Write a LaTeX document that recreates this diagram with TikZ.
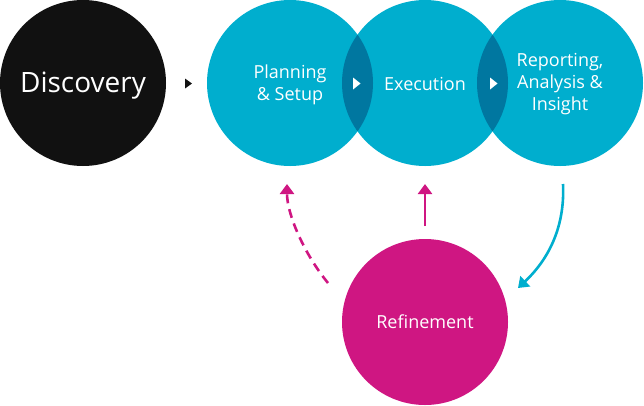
\documentclass[tikz,border=0pt]{standalone}
\usepackage{fontspec}
\setmainfont{Open Sans}
\usetikzlibrary{arrows.meta}
\definecolor{blackc}{HTML}{111111}
\definecolor{tealc}{HTML}{00AECE}
\definecolor{lensc}{HTML}{0077A0}
\definecolor{magc}{HTML}{CF1682}
\tikzset{
  bigcircle/.style={circle, minimum size=166pt, inner sep=0pt, text=white, align=center},
  stagetext/.style={font=\fontsize{18}{22}\selectfont},
  magarrow/.style={draw=magc, line width=2.6pt, -{Triangle[width=14pt,length=10pt]}},
  cyanarrow/.style={draw=tealc, line width=2.6pt, -{Triangle[width=14pt,length=10pt]}},
}
\begin{document}
\begin{tikzpicture}[x=1pt,y=-1pt]
\useasboundingbox (0,0) rectangle (644,405);
% circles
\node[bigcircle, fill=blackc] (disc) at (83,83) {};
\node[bigcircle, fill=tealc] (plan) at (290,83) {};
\node[bigcircle, fill=tealc] (exec) at (425,83) {};
\node[bigcircle, fill=tealc] (rep) at (560,83) {};
\node[bigcircle, fill=magc, stagetext] (ref) at (425,322) {Refinement};
% lenses
\begin{scope}
  \clip (plan.center) circle (83);
  \fill[lensc] (exec.center) circle (83);
\end{scope}
\begin{scope}
  \clip (exec.center) circle (83);
  \fill[lensc] (rep.center) circle (83);
\end{scope}
% texts
\node[text=white, font=\fontsize{28}{32}\selectfont] (disct) at (83,86) {Discovery};
\node[stagetext, text=white, align=center] (plant) at (290,85) {Planning\\\& Setup};
\node[stagetext, text=white] (exect) at (425,84) {Execution};
\node[stagetext, text=white, align=center] (rept) at (560,84) {Reporting,\\Analysis \&\\Insight};
% small triangles
\fill[blackc] (185,78.5) -- (192,83.5) -- (185,88.5) -- cycle;
\fill[white] (353,77.5) -- (360.5,83.5) -- (353,89.5) -- cycle;
\fill[white] (490,77.5) -- (497.5,83.5) -- (490,89.5) -- cycle;
% connectors
\coordinate (dashS) at (328,283);
\coordinate (dashE) at (287,184);
\coordinate (solS) at (425,226);
\coordinate (solE) at (425,184);
\coordinate (cyS) at (563,184);
\coordinate (cyE) at (518,288);
\draw[magarrow, dash pattern=on 9pt off 6pt] (dashS) .. controls (305,255) and (287,215) .. (dashE);
\draw[magarrow] (solS) -- (solE);
\draw[cyanarrow] (cyS) .. controls (565,225) and (550,258) .. (cyE);
\end{tikzpicture}
\end{document}
